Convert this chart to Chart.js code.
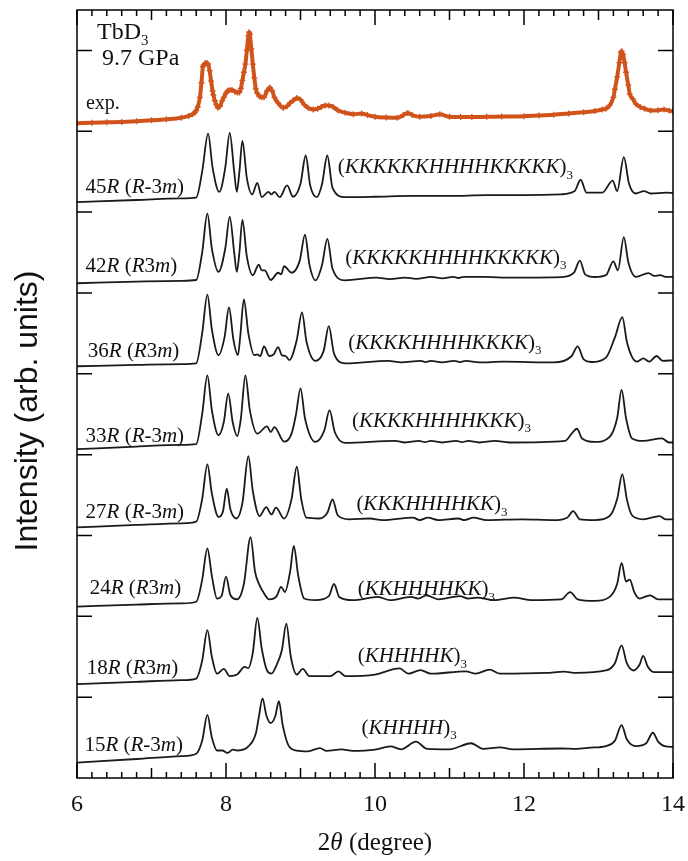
<!DOCTYPE html>
<html>
<head>
<meta charset="utf-8">
<script src="https://cdn.jsdelivr.net/npm/chart.js@4.4.0/dist/chart.umd.min.js"></script>
<style>
  body { margin: 0; background: #fff; }
</style>
</head>
<body>
<canvas id="xrdChart" width="688" height="861"></canvas>
<script>
// Данные: [2theta, интенсивность над базой панели]
const phases = ['15', '18', '24', '27', '33', '36', '42', '45'];
const spaceGroups = ['R-3m', 'R3m', 'R3m', 'R-3m', 'R-3m', 'R3m', 'R3m', 'R-3m'];
const stackings = ['KHHHH', 'KHHHHK', 'KKHHHHKK', 'KKKHHHHKK', 'KKKKHHHHKKK',
                   'KKKKHHHHKKKK', 'KKKKKHHHHKKKKK', 'KKKKKKHHHHKKKKK'];
const xTickLabels = [6, 8, 10, 12, 14];

const pat15R = [[6.0,0.19],[6.8,0.235],[7.4,0.27],[7.6,0.30],[7.68,0.46],[7.75,0.78],[7.81,0.50],[7.88,0.34],
  [7.95,0.34],[8.02,0.31],[8.09,0.35],[8.16,0.34],[8.30,0.39],[8.40,0.55],[8.44,0.75],[8.49,0.985],[8.54,0.78],
  [8.60,0.68],[8.66,0.76],[8.71,0.95],[8.76,0.66],[8.84,0.40],[8.95,0.34],[9.10,0.33],[9.26,0.37],[9.35,0.335],
  [9.55,0.355],[9.70,0.335],[10.0,0.35],[10.21,0.39],[10.35,0.355],[10.55,0.45],[10.7,0.36],[11.0,0.355],
  [11.29,0.43],[11.45,0.36],[11.68,0.38],[11.85,0.355],[12.49,0.365],[12.7,0.36],[12.89,0.375],[13.1,0.395],
  [13.22,0.46],[13.31,0.655],[13.38,0.48],[13.5,0.395],[13.64,0.43],[13.73,0.56],[13.80,0.45],[13.9,0.39],[14.0,0.385]];

const pat18R = [[6.0,0.16],[6.8,0.19],[7.4,0.21],[7.6,0.23],[7.68,0.45],[7.75,0.83],[7.81,0.50],[7.88,0.29],
  [7.97,0.35],[8.05,0.26],[8.15,0.28],[8.25,0.375],[8.30,0.36],[8.36,0.55],[8.42,0.98],[8.48,0.60],[8.55,0.33],
  [8.61,0.29],[8.68,0.40],[8.75,0.58],[8.81,0.91],[8.87,0.50],[8.95,0.28],[9.03,0.35],[9.12,0.26],[9.4,0.26],
  [9.51,0.32],[9.6,0.26],[10.0,0.28],[10.33,0.355],[10.45,0.29],[10.61,0.335],[10.75,0.29],[11.22,0.32],
  [11.35,0.29],[11.54,0.34],[11.68,0.29],[12.3,0.30],[12.54,0.315],[12.7,0.30],[13.1,0.33],[13.22,0.42],
  [13.31,0.64],[13.38,0.42],[13.47,0.33],[13.55,0.40],[13.60,0.51],[13.66,0.38],[13.75,0.31],[14.0,0.31]];

const pat24R = [[6.0,0.12],[6.8,0.145],[7.4,0.16],[7.6,0.18],[7.68,0.45],[7.75,0.84],[7.81,0.50],[7.88,0.22],
  [7.94,0.25],[8.00,0.49],[8.06,0.26],[8.15,0.21],[8.24,0.40],[8.33,0.98],[8.39,0.55],[8.45,0.385],[8.50,0.30],
  [8.58,0.21],[8.68,0.25],[8.74,0.365],[8.79,0.30],[8.86,0.55],[8.91,0.87],[8.97,0.50],[9.05,0.22],[9.2,0.20],
  [9.38,0.25],[9.45,0.40],[9.52,0.24],[9.7,0.20],[10.04,0.24],[10.2,0.20],[10.48,0.24],[10.58,0.22],[10.69,0.26],
  [10.85,0.21],[11.14,0.25],[11.25,0.22],[11.37,0.23],[11.6,0.20],[11.87,0.23],[12.1,0.20],[12.5,0.21],
  [12.62,0.30],[12.72,0.21],[12.95,0.19],[13.15,0.24],[13.25,0.40],[13.31,0.66],[13.37,0.43],[13.42,0.455],
  [13.48,0.30],[13.55,0.22],[13.69,0.26],[13.8,0.21],[14.0,0.21]];

const pat27R = [[6.0,0.10],[6.8,0.13],[7.4,0.15],[7.6,0.17],[7.68,0.45],[7.75,0.88],[7.81,0.52],[7.90,0.23],
  [7.96,0.30],[8.01,0.58],[8.06,0.32],[8.14,0.21],[8.22,0.40],[8.30,0.98],[8.36,0.55],[8.45,0.24],[8.54,0.35],
  [8.61,0.26],[8.67,0.345],[8.78,0.21],[8.88,0.45],[8.95,0.85],[9.01,0.45],[9.08,0.22],[9.25,0.21],[9.36,0.28],
  [9.43,0.445],[9.50,0.25],[9.65,0.20],[9.93,0.21],[10.1,0.19],[10.51,0.22],[10.6,0.19],[10.71,0.22],[10.85,0.19],
  [11.12,0.21],[11.2,0.19],[11.32,0.22],[11.5,0.19],[11.97,0.20],[12.4,0.19],[12.58,0.22],[12.66,0.30],
  [12.75,0.20],[12.95,0.19],[13.15,0.24],[13.25,0.45],[13.32,0.76],[13.38,0.45],[13.45,0.25],[13.6,0.20],
  [13.82,0.24],[13.9,0.20],[14.0,0.20]];

const pat33R = [[6.0,0.067],[6.8,0.10],[7.4,0.12],[7.6,0.13],[7.68,0.50],[7.75,0.98],[7.81,0.55],[7.90,0.24],
  [7.97,0.40],[8.03,0.755],[8.09,0.40],[8.15,0.23],[8.20,0.45],[8.26,0.98],[8.32,0.55],[8.42,0.26],[8.55,0.35],
  [8.60,0.28],[8.65,0.34],[8.78,0.16],[8.88,0.26],[8.94,0.50],[9.00,0.82],[9.06,0.45],[9.20,0.157],[9.32,0.30],
  [9.39,0.55],[9.46,0.28],[9.6,0.145],[10.27,0.17],[10.4,0.15],[10.59,0.17],[10.67,0.155],[10.75,0.17],
  [10.9,0.15],[11.09,0.17],[11.17,0.155],[11.25,0.17],[11.4,0.15],[11.61,0.17],[11.8,0.15],[12.55,0.17],
  [12.64,0.26],[12.71,0.32],[12.78,0.20],[12.95,0.157],[13.15,0.22],[13.25,0.45],[13.31,0.80],[13.37,0.45],
  [13.45,0.20],[13.6,0.17],[13.85,0.20],[13.95,0.15],[14.0,0.15]];

const pat36R = [[6.0,0.093],[6.8,0.11],[7.4,0.12],[7.6,0.13],[7.68,0.50],[7.75,0.98],[7.81,0.55],[7.90,0.23],
  [7.98,0.45],[8.04,0.82],[8.10,0.42],[8.16,0.23],[8.19,0.45],[8.24,0.92],[8.30,0.50],[8.38,0.23],[8.42,0.24],
  [8.46,0.22],[8.51,0.34],[8.58,0.22],[8.64,0.24],[8.70,0.33],[8.75,0.23],[8.80,0.22],[8.85,0.17],[8.95,0.42],
  [9.02,0.76],[9.08,0.40],[9.20,0.16],[9.31,0.28],[9.38,0.59],[9.45,0.25],[9.6,0.13],[10.18,0.16],[10.35,0.14],
  [10.61,0.16],[10.68,0.145],[10.75,0.16],[10.9,0.14],[11.06,0.16],[11.14,0.145],[11.22,0.16],[11.4,0.14],
  [11.72,0.15],[12.4,0.14],[12.64,0.22],[12.72,0.34],[12.80,0.18],[12.9,0.146],[13.1,0.20],[13.22,0.45],
  [13.32,0.70],[13.38,0.40],[13.45,0.21],[13.52,0.15],[13.60,0.19],[13.68,0.15],[13.78,0.22],[13.86,0.16],[14.0,0.167]];

const pat42R = [[6.0,0.12],[6.8,0.14],[7.4,0.15],[7.6,0.16],[7.68,0.50],[7.75,0.98],[7.81,0.55],[7.90,0.26],
  [7.99,0.55],[8.05,0.94],[8.11,0.50],[8.145,0.26],[8.18,0.50],[8.22,0.905],[8.28,0.45],[8.36,0.22],[8.44,0.35],
  [8.48,0.28],[8.52,0.28],[8.60,0.16],[8.70,0.25],[8.74,0.23],[8.78,0.33],[8.88,0.25],[8.99,0.40],[9.06,0.72],
  [9.12,0.35],[9.20,0.156],[9.29,0.35],[9.36,0.67],[9.43,0.30],[9.6,0.156],[10.02,0.19],[10.2,0.17],[10.40,0.19],
  [10.55,0.175],[10.76,0.20],[10.9,0.18],[11.05,0.20],[11.12,0.185],[11.19,0.20],[11.45,0.20],[11.7,0.19],
  [12.0,0.19],[12.5,0.195],[12.67,0.25],[12.75,0.40],[12.82,0.23],[12.95,0.197],[13.1,0.22],[13.20,0.39],
  [13.26,0.28],[13.34,0.69],[13.40,0.38],[13.50,0.20],[13.67,0.245],[13.75,0.21],[13.83,0.22],[13.9,0.20],[14.0,0.20]];

const pat45R = [[6.0,0.124],[6.8,0.15],[7.4,0.17],[7.6,0.18],[7.68,0.50],[7.76,0.97],[7.82,0.55],[7.91,0.25],
  [7.99,0.55],[8.05,0.98],[8.11,0.50],[8.145,0.25],[8.18,0.50],[8.22,0.88],[8.28,0.42],[8.35,0.22],[8.42,0.36],
  [8.48,0.185],[8.57,0.25],[8.61,0.22],[8.65,0.25],[8.72,0.185],[8.82,0.33],[8.90,0.19],[9.00,0.35],[9.07,0.70],
  [9.13,0.33],[9.22,0.185],[9.29,0.35],[9.36,0.70],[9.43,0.30],[9.6,0.185],[10.0,0.19],[10.5,0.20],[11.0,0.20],
  [11.5,0.21],[12.0,0.21],[12.5,0.22],[12.68,0.26],[12.76,0.40],[12.84,0.24],[13.05,0.24],[13.19,0.39],
  [13.25,0.26],[13.34,0.68],[13.41,0.35],[13.50,0.23],[13.61,0.26],[13.7,0.23],[13.91,0.24],[14.0,0.235]];

const patExp = [[6.0,0.10],[6.2,0.104],[6.4,0.11],[6.6,0.116],[6.8,0.124],[7.0,0.135],[7.2,0.148],[7.4,0.167],
  [7.5,0.19],[7.55,0.21],[7.58,0.23],[7.6,0.257],[7.62,0.30],[7.65,0.42],[7.67,0.60],[7.69,0.80],[7.70,0.82],
  [7.72,0.84],[7.73,0.845],[7.75,0.84],[7.76,0.83],[7.78,0.75],[7.80,0.62],[7.82,0.50],[7.83,0.45],[7.85,0.38],
  [7.87,0.33],[7.89,0.29],[7.92,0.31],[7.95,0.38],[7.97,0.42],[8.00,0.47],[8.02,0.50],[8.05,0.51],[8.08,0.51],
  [8.12,0.49],[8.15,0.48],[8.18,0.48],[8.20,0.53],[8.22,0.63],[8.24,0.73],[8.26,0.83],[8.28,1.00],[8.30,1.18],
  [8.31,1.225],[8.32,1.20],[8.34,1.02],[8.36,0.83],[8.38,0.66],[8.40,0.525],[8.42,0.47],[8.45,0.43],[8.48,0.42],
  [8.51,0.42],[8.55,0.50],[8.59,0.54],[8.62,0.50],[8.65,0.42],[8.70,0.35],[8.77,0.29],[8.82,0.31],[8.86,0.35],
  [8.90,0.38],[8.95,0.41],[9.00,0.39],[9.05,0.33],[9.10,0.29],[9.17,0.27],[9.23,0.28],[9.28,0.30],[9.33,0.32],
  [9.38,0.32],[9.44,0.30],[9.5,0.26],[9.6,0.23],[9.71,0.21],[9.82,0.22],[9.9,0.20],[10.0,0.18],[10.15,0.17],
  [10.3,0.167],[10.38,0.20],[10.44,0.225],[10.5,0.20],[10.6,0.18],[10.75,0.19],[10.87,0.21],[11.0,0.18],
  [11.15,0.177],[11.3,0.175],[11.5,0.178],[11.7,0.182],[12.0,0.187],[12.2,0.195],[12.4,0.205],[12.6,0.22],
  [12.8,0.236],[12.95,0.25],[13.05,0.27],[13.1,0.28],[13.15,0.32],[13.2,0.42],[13.22,0.52],[13.25,0.67],
  [13.28,0.85],[13.30,0.97],[13.31,0.99],[13.33,0.95],[13.35,0.85],[13.37,0.73],[13.40,0.57],[13.42,0.46],
  [13.46,0.40],[13.5,0.34],[13.56,0.30],[13.62,0.28],[13.7,0.257],[13.8,0.26],[13.88,0.27],[13.95,0.255],[14.0,0.25]];

const simPatterns = [pat15R, pat18R, pat24R, pat27R, pat33R, pat36R, pat42R, pat45R];
const expColor = '#d0531c';
const serif = '"Liberation Serif", "Times New Roman", serif';

// положения подписей (в координатах данных)
const nameX = [6.1, 6.13, 6.17, 6.115, 6.115, 6.145, 6.115, 6.115];
const nameDy = [0.34, 0.285, 0.275, 0.21, 0.157, 0.21, 0.26, 0.24];
const seqX = [9.82, 9.77, 9.77, 9.75, 9.69, 9.64, 9.6, 9.5];
const seqDy = [0.55, 0.43, 0.26, 0.31, 0.34, 0.31, 0.36, 0.48];

function drawRuns(ctx, x, y, runs, size) {
    let cx = x;
    runs.forEach(([t, s]) => {
        const sub = s === 's';
        const fs = sub ? size * 0.62 : size;
        ctx.font = (s === 'i' ? 'italic ' : '') + fs + 'px ' + serif;
        ctx.fillText(t, cx, sub ? y + size * 0.25 : y);
        cx += ctx.measureText(t).width;
    });
    return cx - x;
}

function groupRuns(sg) {
    if (sg === 'R-3m') return [['R', 'i'], ['-3', 'n'], ['m', 'i']];
    return [['R', 'i'], ['3', 'n'], ['m', 'i']];
}

const decorPlugin = {
    id: 'decor',
    afterDraw(chart) {
        const { ctx, chartArea: a, scales: { x, y } } = chart;
        ctx.save();
        ctx.strokeStyle = '#000';
        ctx.lineWidth = 1.5;
        ctx.strokeRect(a.left, a.top, a.right - a.left, a.bottom - a.top);

        // засечки
        ctx.beginPath();
        for (let i = 0; i <= 40; i++) {
            const px = x.getPixelForValue(6 + i * 0.2);
            let len = 6;
            if (i % 10 === 0) len = 15; else if (i % 5 === 0) len = 10;
            ctx.moveTo(px, a.bottom); ctx.lineTo(px, a.bottom - len);
            ctx.moveTo(px, a.top); ctx.lineTo(px, a.top + len);
        }
        for (let k = 1; k <= 9; k++) {
            const py = y.getPixelForValue(k);
            ctx.moveTo(a.left, py); ctx.lineTo(a.left + 15, py);
            ctx.moveTo(a.right, py); ctx.lineTo(a.right - 15, py);
        }
        ctx.stroke();

        ctx.fillStyle = '#111';
        ctx.textBaseline = 'alphabetic';
        ctx.textAlign = 'left';
        const fs = 21;
        for (let k = 0; k < phases.length; k++) {
            const nx = x.getPixelForValue(nameX[k]);
            const ny = y.getPixelForValue(k + nameDy[k]);
            drawRuns(ctx, nx, ny, [[phases[k], 'n'], ['R', 'i'], [' (', 'n'],
                ...groupRuns(spaceGroups[k]), [')', 'n']], fs);
            const sx = x.getPixelForValue(seqX[k]);
            const sy = y.getPixelForValue(k + seqDy[k]);
            drawRuns(ctx, sx, sy, [['(', 'n'], [stackings[k], 'i'], [')', 'n'], ['3', 's']], fs);
        }

        drawRuns(ctx, 97, 39, [['TbD', 'n'], ['3', 's']], 24);
        drawRuns(ctx, 102, 65, [['9.7 GPa', 'n']], 24);
        drawRuns(ctx, x.getPixelForValue(6.12), y.getPixelForValue(8.28), [['exp.', 'n']], 20);

        // подпись оси X
        const xr = [['2', 'n'], ['θ', 'i'], [' (degree)', 'n']];
        ctx.globalAlpha = 0;
        const w = drawRuns(ctx, 0, 0, xr, 25);
        ctx.globalAlpha = 1;
        drawRuns(ctx, (a.left + a.right) / 2 - w / 2, 850, xr, 25);

        // подпись оси Y
        ctx.translate(28, 411);
        ctx.rotate(-Math.PI / 2);
        ctx.textAlign = 'center';
        ctx.textBaseline = 'middle';
        ctx.font = '32px "Liberation Sans", Arial, sans-serif';
        ctx.fillText('Intensity (arb. units)', 0, 0);
        ctx.restore();
    }
};

const datasets = simPatterns.map((pat, k) => ({
    data: pat.map(p => ({ x: p[0], y: k + p[1] })),
    borderColor: '#1a1a1a',
    borderWidth: 1.8,
    pointRadius: 0,
    cubicInterpolationMode: 'monotone',
    fill: false
}));
datasets.push({
    data: patExp.map(p => ({ x: p[0], y: 8 + p[1] })),
    borderColor: expColor,
    borderWidth: 4,
    pointStyle: 'cross',
    pointRadius: 3,
    pointBorderWidth: 1.3,
    pointBorderColor: expColor,
    pointBackgroundColor: expColor,
    cubicInterpolationMode: 'monotone',
    fill: false
});

let ctx = document.getElementById('xrdChart').getContext('2d');
let xrdChart = new Chart(ctx, {
    type: 'line',
    data: { datasets: datasets },
    plugins: [decorPlugin],
    options: {
        responsive: false,
        animation: false,
        layout: { padding: { top: 10, right: 15, left: 0, bottom: 0 } },
        plugins: { legend: { display: false }, tooltip: { enabled: false } },
        scales: {
            x: {
                type: 'linear',
                min: 6,
                max: 14,
                afterFit: s => { s.height = 83; s.paddingLeft = 0; s.paddingRight = 0; },
                afterBuildTicks: s => { s.ticks = xTickLabels.map(v => ({ value: v })); },
                grid: { display: false, drawTicks: false },
                border: { display: false },
                ticks: { padding: 12, color: '#111', font: { size: 24, family: serif } }
            },
            y: {
                min: 0,
                max: 9.5,
                afterFit: s => { s.width = 77; },
                grid: { display: false, drawTicks: false },
                border: { display: false },
                ticks: { display: false }
            }
        }
    }
});
</script>
</body>
</html>
